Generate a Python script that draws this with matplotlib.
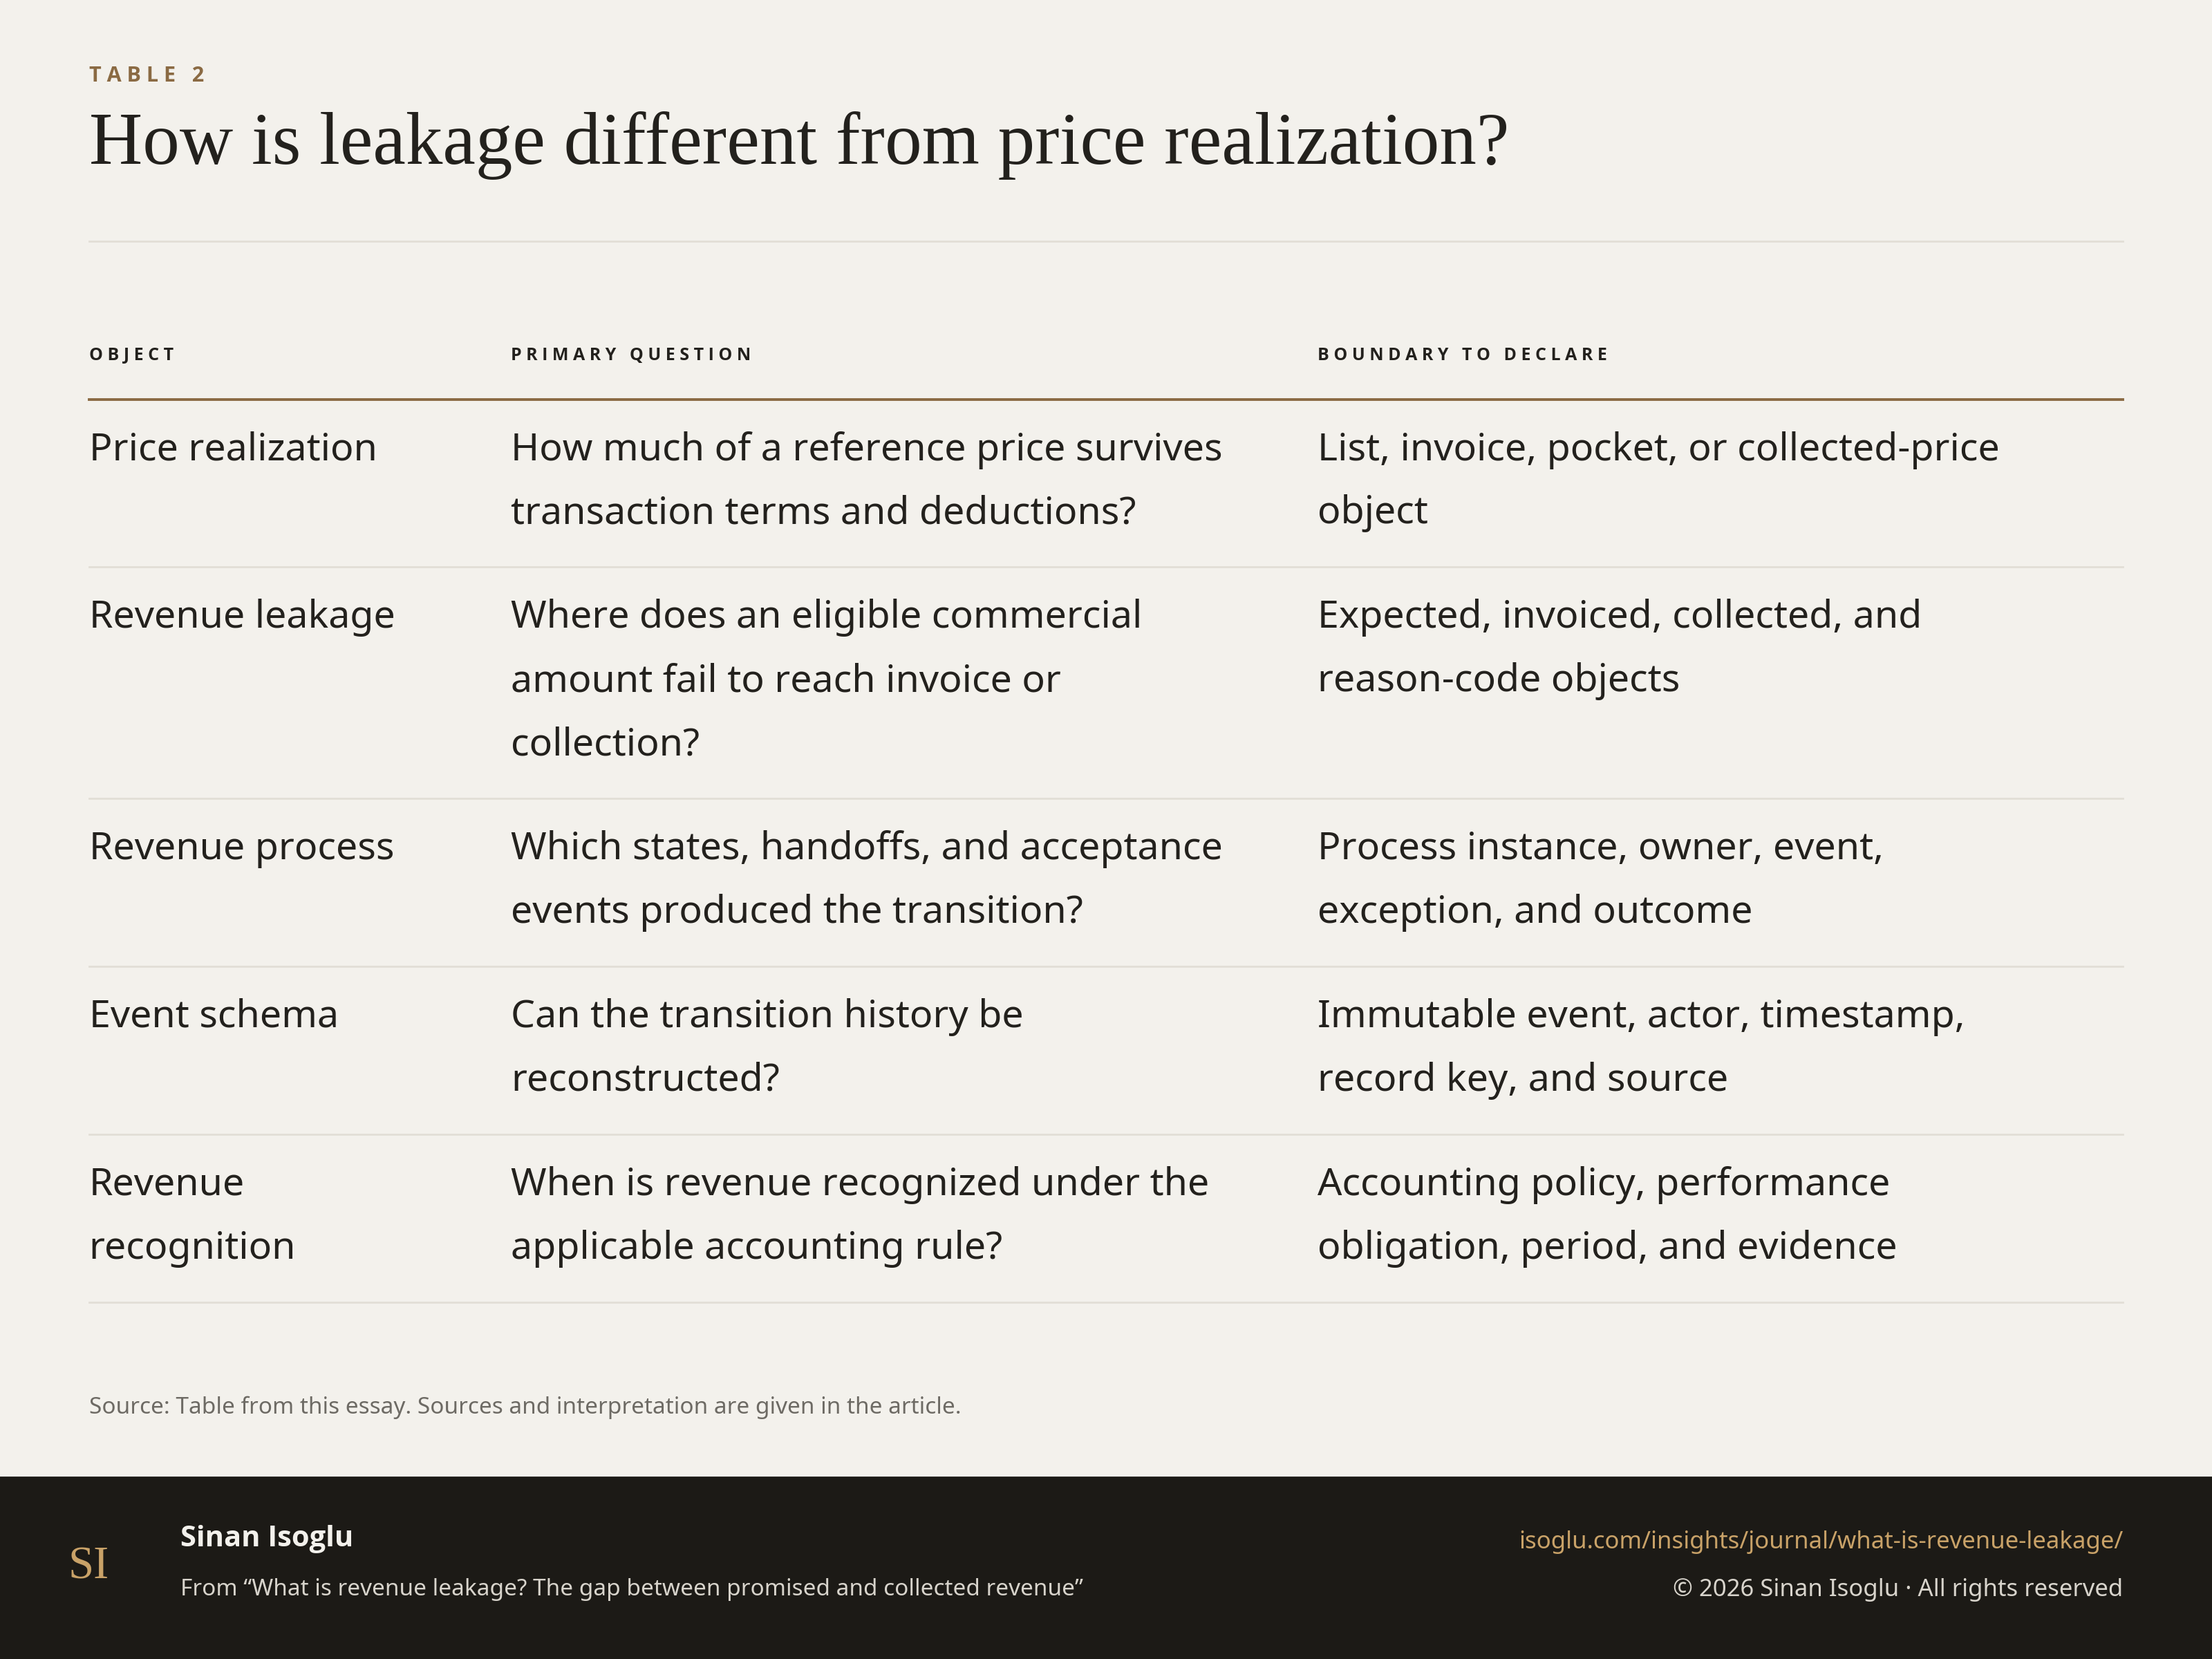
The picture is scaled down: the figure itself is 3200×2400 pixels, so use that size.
import matplotlib.pyplot as plt
from matplotlib.patches import Rectangle
from matplotlib.lines import Line2D

objects = ["Price realization", "Revenue leakage", "Revenue process",
           "Event schema", "Revenue\nrecognition"]
questions = [
    "How much of a reference price survives\ntransaction terms and deductions?",
    "Where does an eligible commercial\namount fail to reach invoice or\ncollection?",
    "Which states, handoffs, and acceptance\nevents produced the transition?",
    "Can the transition history be\nreconstructed?",
    "When is revenue recognized under the\napplicable accounting rule?",
]
boundaries = [
    "List, invoice, pocket, or collected-price\nobject",
    "Expected, invoiced, collected, and\nreason-code objects",
    "Process instance, owner, event,\nexception, and outcome",
    "Immutable event, actor, timestamp,\nrecord key, and source",
    "Accounting policy, performance\nobligation, period, and evidence",
]
headers = ["O B J E C T", "P R I M A R Y   Q U E S T I O N", "B O U N D A R Y   T O   D E C L A R E"]

W, H = 1568, 1176
BG = "#f3f1ec"
INK = "#23211d"
SANS = ["Noto Sans", "DejaVu Sans"]
BOLD = ["Open Sans", "DejaVu Sans"]
SERIF = ["Liberation Serif", "DejaVu Serif"]

fig = plt.figure(figsize=(16, 12), dpi=200, facecolor=BG)
ax = fig.add_axes([0, 0, 1, 1])
ax.set_xlim(0, W)
ax.set_ylim(H, 0)
ax.axis("off")

ax.text(63, 54, "T A B L E   2", fontsize=11, color="#8a6a43", family=BOLD,
        va="center", fontweight="bold")
ax.text(63, 103, "How is leakage different from price realization?", fontsize=38.5,
        color=INK, family=SERIF, va="center")
ax.add_line(Line2D([63, 1505], [171, 171], color="#e2ded6", lw=1))

cols = [63, 362, 934]
for x, h in zip(cols, headers):
    ax.text(x, 252, h, fontsize=9, fontweight="bold", color=INK, family=BOLD,
            va="center")
ax.add_line(Line2D([63, 1505], [283, 283], color="#8a6a43", lw=1.4))

top = 283
for row in zip(objects, questions, boundaries):
    n = max(len(c.split("\n")) for c in row)
    for x, cell in zip(cols, row):
        for i, line in enumerate(cell.split("\n")):
            ax.text(x, top + 36 + 45 * i, line, fontsize=20, color=INK,
                    family=SANS, va="center")
    top += 29 + 45 * n
    ax.add_line(Line2D([63, 1505], [top, top], color="#e2ded6", lw=1))

ax.text(63, 998, "Source: Table from this essay. Sources and interpretation are given in the article.",
        fontsize=12, color="#6d6a64", family=SANS, va="center")

ax.add_patch(Rectangle((0, 1047), W, H - 1047, color="#1c1a16", zorder=0))
ax.text(63, 1111, "SI", fontsize=24, color="#c9a268", family=SERIF, va="center", ha="center")
ax.text(128, 1091, "Sinan Isoglu", fontsize=15, fontweight="bold", color="#f3f1ec",
        family=BOLD, va="center")
ax.text(128, 1127, "From \u201cWhat is revenue leakage? The gap between promised and collected revenue\u201d",
        fontsize=12, color="#d8d4cc", family=SANS, va="center")
ax.text(1505, 1093, "isoglu.com/insights/journal/what-is-revenue-leakage/", fontsize=12.5,
        color="#c9a268", family=SANS, va="center", ha="right")
ax.text(1505, 1127, "\u00a9 2026 Sinan Isoglu \u00b7 All rights reserved", fontsize=12.5,
        color="#d8d4cc", family=SANS, va="center", ha="right")

fig.savefig("out.png", dpi=200, facecolor=BG)
